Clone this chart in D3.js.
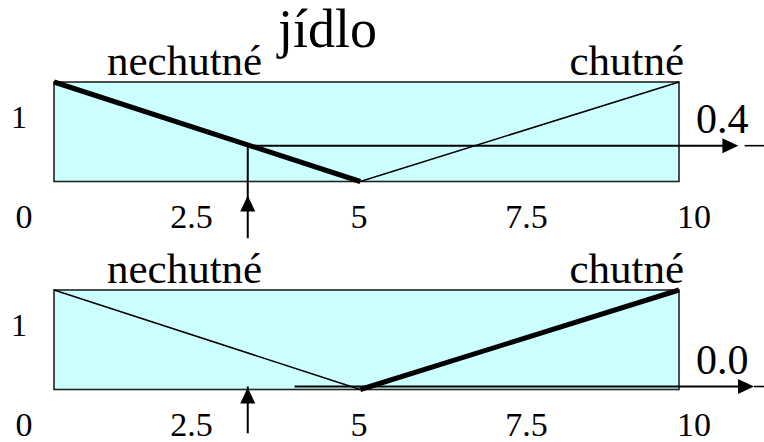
<!DOCTYPE html>
<html><head><meta charset="utf-8">
<script src="https://cdn.jsdelivr.net/npm/d3@7"></script>
<style>
html,body{margin:0;padding:0;background:#fff;}
svg text{font-family:'Liberation Serif','Times New Roman',Tinos,'DejaVu Serif',serif;}
</style></head>
<body>
<svg id="chart" width="764" height="442"></svg>
<script>
// ---- data ----
const title = "jídlo";
const setNames = ["nechutné", "chutné"];
const nechutne = [[0, 1], [4.9, 0]];
const chutne = [[4.9, 0], [10, 1]];
const tickValues = [0, 2.5, 5, 7.5, 10];
const tickLabels = ["0", "2.5", "5", "7.5", "10"];
const yTickLabel = "1";
const inputs = [3.1, 3.1];
const cutLevels = [0.36, 0.03];
const cutLabels = ["0.4", "0.0"];
const activeSet = [0, 1];          // which set is drawn thick
const cutStarts = [3.1, 3.85];
const arrowEnds = [10.95, 11.2];
const tailStarts = [11.05, 11.2];
const inputTips = [-0.14, 0.02];
const inputTails = [-0.57, -0.44];

// ---- layout ----
const FONT = "'Liberation Serif','Times New Roman',Tinos,'DejaVu Serif',serif";
const svg = d3.select("#chart");
const x = d3.scaleLinear().domain([0, 10]).range([54, 679]);
const xLab = d3.scaleLinear().domain([0, 10]).range([24, 694]);
const panelTops = [82, 290];
const panelH = 99.5;

svg.append("text").attr("x", 278).attr("y", 47).attr("font-family", FONT)
  .attr("font-size", 54).text(title);

const series = [nechutne, chutne];

[0, 1].forEach(p => {
  const y = d3.scaleLinear().domain([0, 1]).range([panelTops[p] + panelH, panelTops[p]]);
  const g = svg.append("g").attr("font-family", FONT);
  g.append("rect").attr("x", x(0)).attr("y", y(1))
    .attr("width", x(10) - x(0)).attr("height", y(0) - y(1))
    .attr("fill", "#ccffff").attr("stroke", "#222").attr("stroke-width", 1.6);

  const line = d3.line().x(d => x(d[0])).y(d => y(d[1]));
  series.forEach((s, i) => {
    g.append("path").attr("d", line(s)).attr("fill", "none")
      .attr("stroke", "#000")
      .attr("stroke-width", activeSet[p] === i ? 5 : 1.6)
      .attr("stroke-linecap", "butt");
  });

  g.append("text").attr("x", 107).attr("y", y(1) - 7)
    .attr("font-size", 43).text(setNames[0]);
  g.append("text").attr("x", 684).attr("y", y(1) - 7)
    .attr("text-anchor", "end").attr("font-size", 43).text(setNames[1]);

  g.append("text").attr("x", 19).attr("y", y(0.5) - 4)
    .attr("text-anchor", "middle").attr("font-size", 32).text(yTickLabel);

  g.selectAll(".tl").data(tickValues).enter().append("text")
    .attr("x", d => xLab(d)).attr("y", y(0) + 46)
    .attr("text-anchor", "middle").attr("font-size", 34)
    .text((d, i) => tickLabels[i]);

  const yc = y(cutLevels[p]);
  g.append("line").attr("x1", x(cutStarts[p])).attr("x2", x(arrowEnds[p]) - 4)
    .attr("y1", yc).attr("y2", yc).attr("stroke", "#000").attr("stroke-width", 2);
  g.append("line").attr("x1", x(tailStarts[p])).attr("x2", 764)
    .attr("y1", yc).attr("y2", yc).attr("stroke", "#000").attr("stroke-width", 1.6);
  const tx = x(arrowEnds[p]);
  g.append("path").attr("d", d3.line()([[tx, yc], [tx - 16, yc - 7.5], [tx - 16, yc + 7.5]]) + "Z")
    .attr("fill", "#000");
  g.append("text").attr("x", 696).attr("y", yc - 13)
    .attr("font-size", 42).text(cutLabels[p]);

  const xi = x(inputs[p]);
  const tip = y(inputTips[p]);
  g.append("line").attr("x1", xi).attr("x2", xi)
    .attr("y1", yc).attr("y2", y(inputTails[p]))
    .attr("stroke", "#000").attr("stroke-width", 2);
  g.append("path").attr("d", d3.line()([[xi, tip], [xi - 7.5, tip + 16], [xi + 7.5, tip + 16]]) + "Z")
    .attr("fill", "#000");
});
</script>
</body></html>
